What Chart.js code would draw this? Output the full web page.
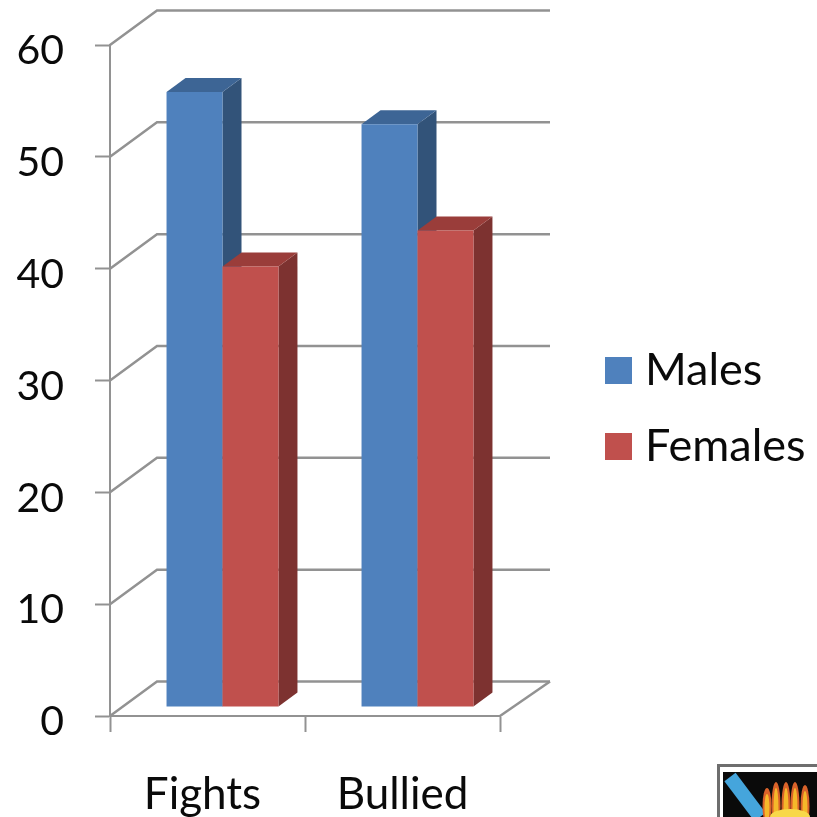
<!DOCTYPE html>
<html>
<head>
<meta charset="utf-8">
<style>html,body{margin:0;padding:0;background:#fff}canvas{display:block}</style>
<script src="https://cdn.jsdelivr.net/npm/chart.js@4"></script>
</head>
<body>
<canvas id="c" width="817" height="817"></canvas>
<script>
const categories = ['Fights', 'Bullied'];
const males = [55, 52.1];
const females = [39.4, 42.6];
const seriesNames = ['Males', 'Females'];
const valueTicks = [0, 10, 20, 30, 40, 50, 60];

const FONT = 'Lato, Carlito, sans-serif';
const GRID = '#929292';
const TEXT = '#0a0a0a';
const WALL = {dx: 47, dy: -34.5};
const BAR_SHIFT = {dx: 15, dy: -9};
const BAR_DEPTH = {dx: 19, dy: -14};
const shades = [
  {top: '#3d6595', side: '#325379'},
  {top: '#9a3d3a', side: '#7d3230'}
];

function poly(ctx, pts, fill) {
  ctx.beginPath();
  pts.forEach((p, i) => i ? ctx.lineTo(p[0], p[1]) : ctx.moveTo(p[0], p[1]));
  ctx.closePath();
  ctx.fillStyle = fill;
  ctx.fill();
}

const walls = {
  id: 'walls',
  beforeDatasetsDraw(chart) {
    const {ctx, scales: {x, y}} = chart;
    const L = x.left, R = x.right;
    ctx.save();
    ctx.strokeStyle = GRID;
    ctx.lineWidth = 2.5;
    valueTicks.forEach(v => {
      const py = y.getPixelForValue(v);
      ctx.beginPath();
      ctx.moveTo(L, py);
      ctx.lineTo(L + WALL.dx, py + WALL.dy);
      ctx.lineTo(R + WALL.dx + 3, py + WALL.dy);
      ctx.stroke();
    });
    const b = y.getPixelForValue(0);
    ctx.beginPath();
    ctx.moveTo(R, b);
    ctx.lineTo(R + WALL.dx + 3, b + WALL.dy);
    ctx.stroke();
    ctx.restore();

    chart.data.datasets.forEach((ds, i) => {
      chart.getDatasetMeta(i).data.forEach(el => {
        const l = el.x - el.width / 2 + BAR_SHIFT.dx, r = el.x + el.width / 2 + BAR_SHIFT.dx;
        const t = el.y + BAR_SHIFT.dy, bt = el.base + BAR_SHIFT.dy;
        const d = BAR_DEPTH;
        ctx.save();
        poly(ctx, [[r, t], [r + d.dx, t + d.dy], [r + d.dx, bt + d.dy], [r, bt]], shades[i].side);
        poly(ctx, [[l, t], [l + d.dx, t + d.dy], [r + d.dx, t + d.dy], [r, t]], shades[i].top);
        ctx.translate(BAR_SHIFT.dx, BAR_SHIFT.dy);
        el.draw(ctx);
        ctx.restore();
      });
    });
    return false;
  }
};

const placeItems = {
  id: 'placeItems',
  afterLayout(chart) {
    const lg = chart.legend;
    const w = lg.width, h = lg.height;
    lg.left = 583.5; lg.right = lg.left + w;
    lg.top = 317; lg.bottom = lg.top + h;
    lg.adjustHitBoxes();
    chart.scales.y.getLabelItems().forEach(it => { it.textOffset += 6; });
    const xItems = chart.scales.x.getLabelItems();
    xItems[0].options.translation[0] -= 5;
  }
};

const crest = {
  id: 'crest',
  afterDraw(chart) {
    const ctx = chart.ctx;
    ctx.save();
    ctx.fillStyle = '#6e6e6e'; ctx.fillRect(717, 764, 100, 53);
    ctx.fillStyle = '#ffffff'; ctx.fillRect(720, 767, 97, 50);
    ctx.fillStyle = '#0a0a0a'; ctx.fillRect(723, 772, 94, 45);
    ctx.strokeStyle = '#45a5dc'; ctx.lineWidth = 14;
    ctx.beginPath(); ctx.moveTo(730, 777); ctx.lineTo(760, 817); ctx.stroke();
    [[767, 788], [776, 782], [786, 782], [795, 782], [805, 785]].forEach(f => {
      ctx.fillStyle = '#d9622a';
      ctx.beginPath(); ctx.ellipse(f[0], 806, 4.5, 806 - f[1], 0, 0, 7); ctx.fill();
      ctx.fillStyle = '#f5b82a';
      ctx.beginPath(); ctx.ellipse(f[0], 808, 2.5, 808 - f[1] - 6, 0, 0, 7); ctx.fill();
    });
    ctx.fillStyle = '#f8d84a';
    ctx.beginPath(); ctx.ellipse(790, 817, 20, 8, 0, 0, 7); ctx.fill();
    ctx.restore();
  }
};

new Chart(document.getElementById('c'), {
  type: 'bar',
  data: {
    labels: categories,
    datasets: [
      {label: seriesNames[0], data: males, backgroundColor: '#4f81bd', borderWidth: 0},
      {label: seriesNames[1], data: females, backgroundColor: '#c0504d', borderWidth: 0}
    ]
  },
  plugins: [walls, placeItems, crest],
  options: {
    responsive: false,
    animation: false,
    layout: {padding: {top: 45, right: 317, left: 0, bottom: 0}},
    datasets: {bar: {categoryPercentage: 0.574, barPercentage: 1}},
    plugins: {
      tooltip: {enabled: false},
      title: {display: false},
      legend: {
        position: 'chartArea',
        align: 'start',
        labels: {
          boxWidth: 8, boxHeight: 8, padding: 31,
          color: TEXT,
          font: {family: FONT, size: 45},
          generateLabels(chart) {
            return Chart.defaults.plugins.legend.labels.generateLabels(chart)
              .map(i => ({...i, lineWidth: 19, strokeStyle: i.fillStyle}));
          }
        }
      }
    },
    scales: {
      x: {
        afterFit(s) { s.height = 101; },
        border: {color: GRID, width: 2},
        grid: {offset: true, drawOnChartArea: false, tickLength: 16, tickColor: GRID, tickWidth: 2},
        ticks: {color: TEXT, padding: 36, maxRotation: 0, font: {family: FONT, size: 44}}
      },
      y: {
        min: 0, max: 60,
        afterFit(s) { s.width = 110; s.paddingTop = 0; s.paddingBottom = 0; },
        afterBuildTicks(s) { s.ticks = valueTicks.map(v => ({value: v})); },
        border: {color: GRID, width: 2},
        grid: {drawOnChartArea: false, tickLength: 15, tickColor: GRID, tickWidth: 2},
        ticks: {color: TEXT, padding: 31, font: {family: FONT, size: 41}}
      }
    }
  }
});
</script>
</body>
</html>
